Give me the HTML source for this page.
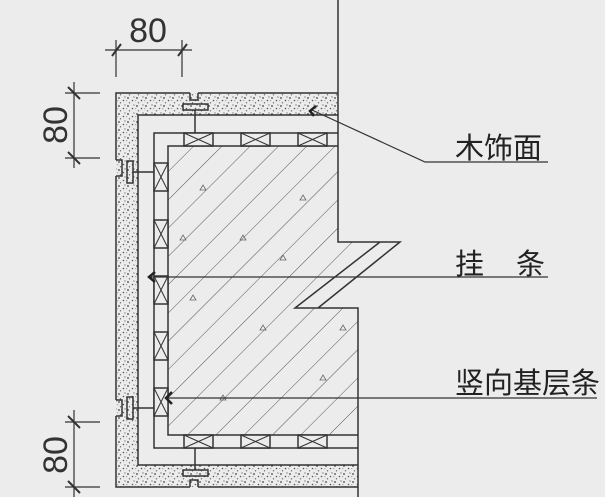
<!DOCTYPE html>
<html><head><meta charset="utf-8"><style>
html,body{margin:0;padding:0;background:#ececec;}
svg{display:block;}
</style></head><body>
<svg width="605" height="497" viewBox="0 0 605 497" xmlns="http://www.w3.org/2000/svg">
<defs>
<pattern id="dots" width="9" height="8" patternUnits="userSpaceOnUse">
<circle cx="2" cy="2" r="0.9" fill="#444"/><circle cx="6.5" cy="4.5" r="0.8" fill="#555"/><circle cx="3.5" cy="6.8" r="0.7" fill="#666"/><circle cx="8" cy="1" r="0.6" fill="#555"/><circle cx="0.8" cy="4.8" r="0.5" fill="#666"/>
</pattern>
<pattern id="hatch" width="20" height="20" patternUnits="userSpaceOnUse" patternTransform="rotate(-45)">
<line x1="0" y1="0" x2="20" y2="0" stroke="#555" stroke-width="1"/>
</pattern>
<clipPath id="conc"><polygon points="168,146 338,146 338,242 380,242 295,308 358,308 358,435 168,435"/></clipPath>
</defs>
<rect width="605" height="497" fill="#ececec"/>
<path d="M116,93 H338 V115 H138 V465 H358 V487 H116 Z" fill="url(#dots)"/>
<g clip-path="url(#conc)"><rect x="160" y="140" width="210" height="300" fill="url(#hatch)"/>
<g fill="none" stroke="#666" stroke-width="0.8">
<path d="M200,190 l3,-5 l3,5 z M240,240 l3,-5 l3,5 z M190,300 l3,-5 l3,5 z M300,200 l3,-5 l3,5 z M260,330 l3,-5 l3,5 z M320,380 l3,-5 l3,5 z M220,400 l3,-5 l3,5 z M340,330 l3,-5 l3,5 z M280,260 l3,-5 l3,5 z M180,240 l3,-5 l3,5 z"/></g></g>
<g fill="none" stroke="#333" stroke-width="1.5">
<path d="M338,93 H198 M190,93 H116 V160 M116,176 V400 M116,416 V487 H190 M198,487 H358"/>
<path d="M338,115 H138 V465 H358"/>
<path d="M338,133 H154 V448 H358"/>
<path d="M338,146 H168 V435 H358"/>
<path d="M338,0 V242 H400 L318,308 M380,242 L295,308 H358 V497"/>
<path d="M190,93 V100 H198 V93"/>
<rect x="183" y="104" width="25" height="6"/>
<line x1="195" y1="110" x2="195" y2="133"/>
<path d="M190,487 V480 H198 V487"/>
<rect x="183" y="470" width="25" height="6"/>
<line x1="195" y1="470" x2="195" y2="448"/>
<path d="M116,160 H122 V176 H116"/>
<rect x="127" y="161" width="6" height="22"/>
<line x1="133" y1="172" x2="154" y2="172"/>
<path d="M116,400 H122 V416 H116"/>
<rect x="127" y="397" width="6" height="22"/>
<line x1="133" y1="408" x2="154" y2="408"/>
</g>
<g fill="#ececec" stroke="#333" stroke-width="1.5">
<g id="bt"><rect x="184" y="133" width="29" height="13"/><path d="M184,133 L213,146 M213,133 L184,146" stroke-width="1"/></g>
<use href="#bt" x="57"/><use href="#bt" x="114"/>
<use href="#bt" y="302"/><use href="#bt" x="57" y="302"/><use href="#bt" x="114" y="302"/>
<g id="bl"><rect x="154" y="163" width="14" height="28"/><path d="M154,163 L168,191 M168,163 L154,191" stroke-width="1"/></g>
<use href="#bl" y="57"/><use href="#bl" y="113"/><use href="#bl" y="169"/><use href="#bl" y="225"/>
</g>
<g fill="none" stroke="#333" stroke-width="1.2">
<path d="M312,110 L425,162 H548"/>
<path d="M150,277 H548"/>
<path d="M166,398 H597"/>
</g>
<g fill="none" stroke="#222" stroke-width="2.5">
<path d="M316,106 L310,111 L314,116"/>
<path d="M155,272 L149,277 L155,282"/>
<path d="M172,392 L166,398 L172,404"/>
</g>
<g fill="none" stroke="#333" stroke-width="1.2">
<path d="M105,50 H192 M116,40 V77 M182,40 V77"/>
<path d="M112,56 L121,44 M178,56 L187,44" stroke-width="2"/>
<path d="M74,82 V168 M65,93 H100 M65,158 H100"/>
<path d="M68,87 L80,99 M68,152 L80,164" stroke-width="2"/>
<path d="M74,410 V497 M65,422 H100 M65,487 H100"/>
<path d="M68,416 L80,428 M68,481 L80,493" stroke-width="2"/>
</g>
<g font-family="Liberation Sans, sans-serif" font-size="34" fill="#333">
<text x="148" y="42" text-anchor="middle">80</text>
<text transform="translate(67,125) rotate(-90)" text-anchor="middle">80</text>
<text transform="translate(67,455) rotate(-90)" text-anchor="middle">80</text>
</g>
<g font-family="Liberation Sans, 'Noto Sans CJK SC', sans-serif" font-size="29" fill="#222">
<text x="455" y="158">木饰面</text>
<text x="455" y="274">挂</text><text x="516" y="274">条</text>
<text x="455" y="393">竖向基层条</text>
</g>
</svg>
</body></html>
